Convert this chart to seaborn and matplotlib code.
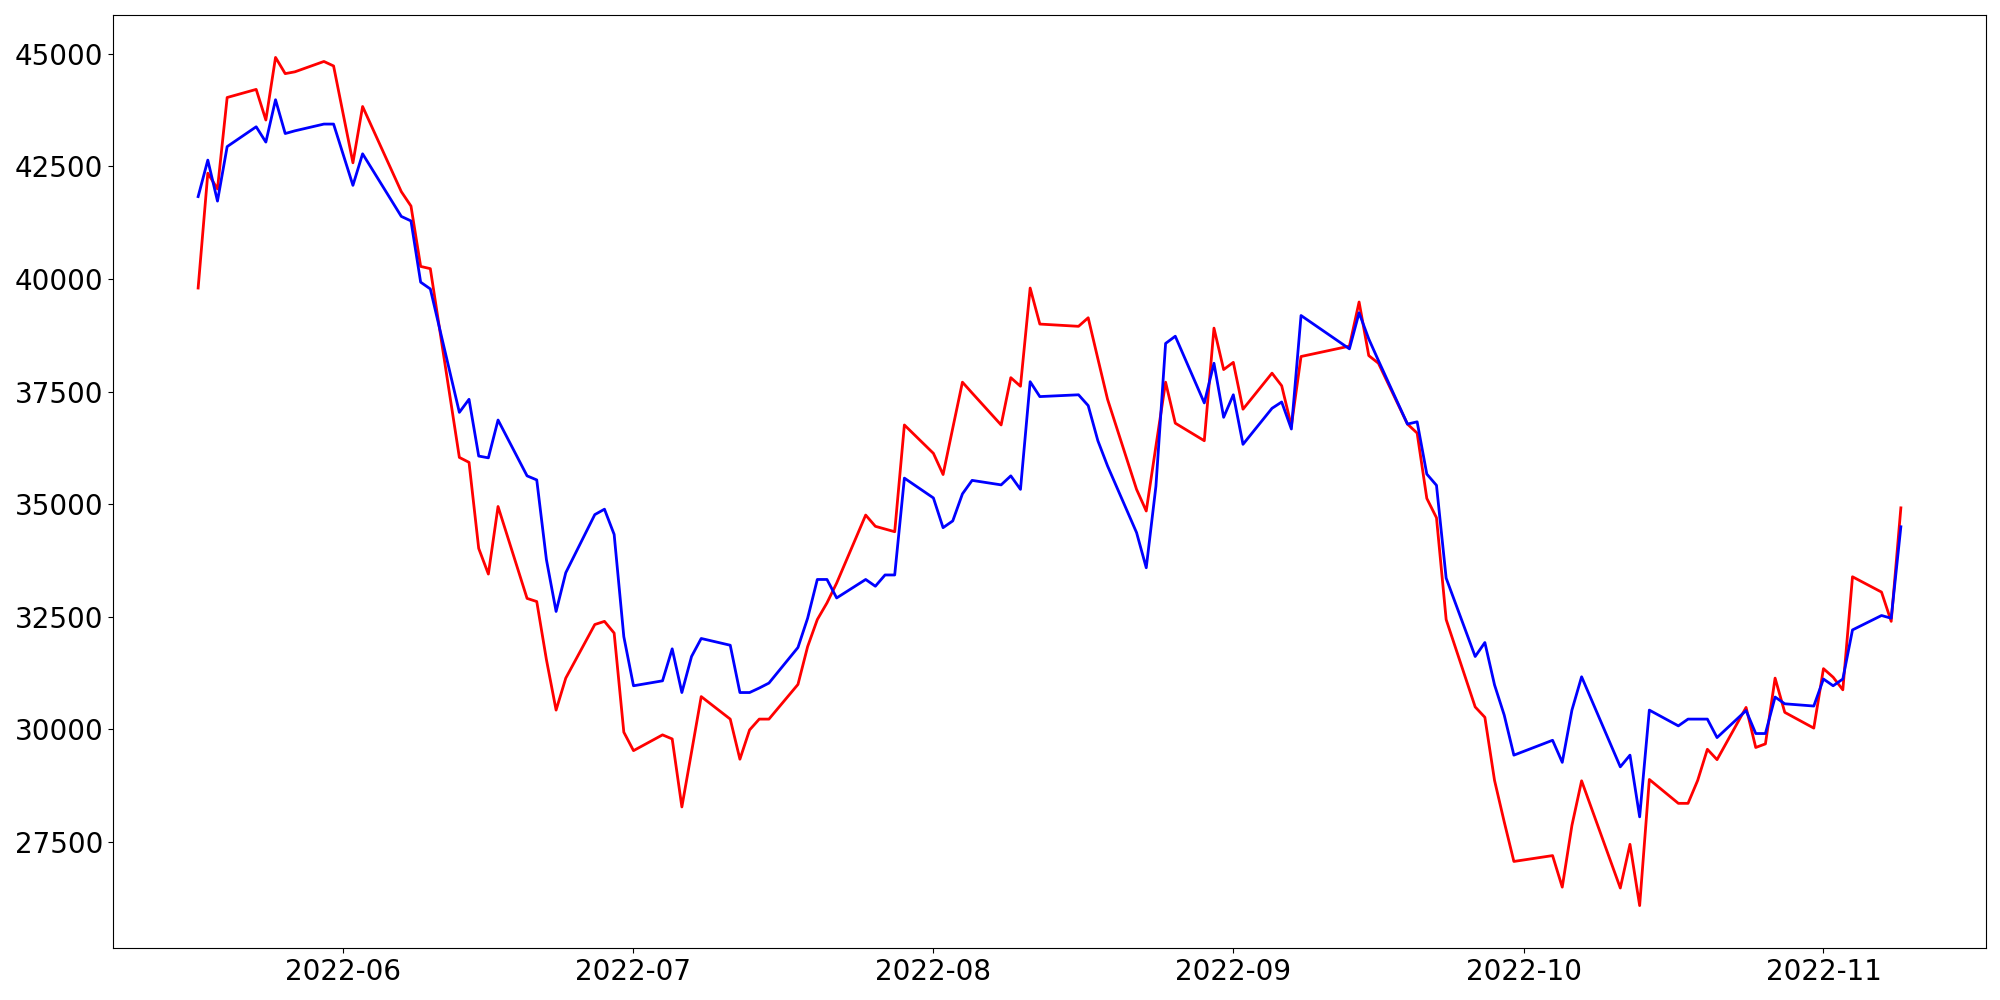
import pandas as pd
import seaborn as sns
import matplotlib.pyplot as plt

# Korean market holidays inside the range (no trading on these days)
holidays = ["2022-06-01", "2022-06-06", "2022-08-15", "2022-09-09",
            "2022-09-12", "2022-10-03", "2022-10-10"]
dates = pd.bdate_range("2022-05-17", "2022-11-09", freq="C", holidays=holidays)

red_values = [
    # May
    39800, 42350, 42000, 44030, 44210, 43530, 44920, 44560, 44600, 44830, 44730,
    # Jun
    42580, 43830, 41940, 41620, 40280, 40230, 36040, 35930, 34020, 33450,
    34950, 32910, 32840, 31550, 30430, 31140, 32330, 32400, 32140, 29940,
    # Jul
    29530, 29880, 29790, 28280, 29500, 30730, 30230, 29340, 29990, 30230,
    30230, 31000, 31840, 32440, 32810, 33250, 34760, 34510, 34450, 34390, 36760,
    # Aug
    36130, 35660, 36690, 37710, 37470, 36760, 37810, 37620, 39800, 39000, 38950,
    39140, 38230, 37330, 35330, 34850, 36290, 37710, 36800, 36410, 38910, 37990,
    # Sep
    38150, 37110, 37910, 37630, 36740, 38280, 38510, 39490, 38300, 38130,
    36780, 36580, 35130, 34700, 32440, 30500, 30270, 28870, 27950, 27070,
    # Oct
    27200, 26500, 27870, 28860, 26480, 27450, 26090, 28890, 28360, 28360,
    28870, 29560, 29330, 30490, 29600, 29680, 31140, 30380, 30030,
    # Nov
    31350, 31160, 30880, 33390, 33050, 32400, 34920,
]

blue_values = [
    # May
    41830, 42640, 41730, 42940, 43380, 43040, 43980, 43230, 43290, 43440, 43440,
    # Jun
    42080, 42780, 41390, 41290, 39930, 39780, 37040, 37330, 36070, 36030,
    36870, 35630, 35540, 33770, 32620, 33480, 34770, 34890, 34330, 32060,
    # Jul
    30970, 31080, 31790, 30820, 31620, 32020, 31870, 30820, 30820, 30920,
    31030, 31820, 32470, 33330, 33330, 32920, 33330, 33180, 33430, 33430, 35580,
    # Aug
    35140, 34480, 34630, 35230, 35530, 35430, 35630, 35330, 37720, 37390, 37430,
    37190, 36410, 35850, 34370, 33590, 35400, 38570, 38730, 37250, 38130, 36930,
    # Sep
    37430, 36330, 37130, 37270, 36670, 39190, 38450, 39250, 38670, 38190,
    36780, 36830, 35670, 35420, 33360, 31620, 31930, 30990, 30320, 29430,
    # Oct
    29760, 29270, 30430, 31170, 29170, 29430, 28060, 30430, 30080, 30230,
    30230, 30230, 29820, 30420, 29910, 29910, 30720, 30570, 30520,
    # Nov
    31120, 30970, 31120, 32210, 32530, 32470, 34500,
]

df = pd.DataFrame({"date": dates, "red": red_values, "blue": blue_values})

fig, ax = plt.subplots(figsize=(20, 10), dpi=100)
sns.lineplot(data=df, x="date", y="red", color="red", linewidth=2, ax=ax)
sns.lineplot(data=df, x="date", y="blue", color="blue", linewidth=2, ax=ax)

ax.set_xlabel("")
ax.set_ylabel("")
ax.tick_params(labelsize=20)

fig.subplots_adjust(left=0.0565, right=0.993, bottom=0.052, top=0.985)
fig.savefig("out.png")
